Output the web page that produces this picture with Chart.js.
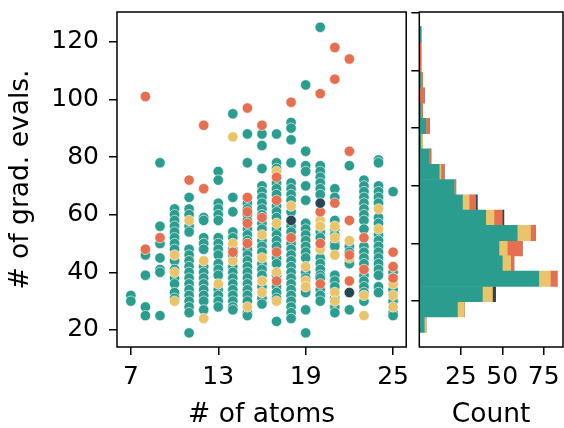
<!DOCTYPE html>
<html>
<head>
<meta charset="utf-8">
<script src="https://cdn.jsdelivr.net/npm/chart.js@4.4.1/dist/chart.umd.min.js"></script>
<style>
  html, body { margin: 0; padding: 0; background: #fff; }
  #wrap { position: relative; width: 564px; height: 428px; overflow: hidden; }
  canvas { position: absolute; top: 0; }
</style>
</head>
<body>
<div id="wrap">
  <canvas id="scatter" width="412" height="428" style="left:0"></canvas>
  <canvas id="hist" width="160" height="428" style="left:404px"></canvas>
</div>
<script>
// ---------- data ----------
const xTickValues = [7, 13, 19, 25];
const yTickValues = [20, 40, 60, 80, 100, 120];
const countTickValues = [25, 50, 75];

// scatter columns: [number of atoms, [grad evals ...]]
const tealPoints = [
  [7, [32, 30]],
  [8, [46, 39, 28, 25]],
  [9, [78, 56, 50, 45, 41, 40, 25]],
  [10, [62, 60, 58, 56, 54, 52, 50, 48, 44, 41, 38, 36, 33, 31]],
  [11, [66, 62, 60, 56, 54, 48, 46, 44, 42, 40, 38, 36, 34, 32, 30, 28, 26, 19]],
  [12, [59, 58, 52, 50, 48, 42, 40, 38, 36, 34, 32, 30, 27]],
  [13, [75, 72, 64, 62, 60, 58, 52, 50, 48, 46, 43, 41, 39, 34, 32, 30, 28]],
  [14, [95, 66, 61, 54, 52, 48, 46, 42, 40, 38, 36, 34, 32, 30, 28, 27]],
  [15, [88, 78, 64, 62, 60, 58, 55, 53, 51, 48, 46, 44, 42, 40, 38, 36, 34, 32, 30, 26, 25]],
  [16, [88, 84, 76, 70, 68, 66, 64, 62, 60, 57, 55, 51, 49, 47, 43, 41, 39, 35, 31, 29]],
  [17, [88, 78, 76, 71, 69, 67, 63, 61, 59, 55, 53, 51, 49, 45, 43, 39, 35, 33, 31, 23]],
  [18, [92, 90, 86, 78, 71, 69, 67, 65, 61, 56, 54, 50, 48, 46, 44, 42, 40, 38, 36, 34, 32, 30, 28, 26, 24]],
  [19, [105, 82, 77, 75, 70, 65, 57, 55, 53, 51, 49, 47, 45, 40, 38, 34, 33, 27, 19]],
  [20, [125, 77, 75, 73, 71, 69, 67, 54, 52, 45, 43, 41, 39, 38, 34, 32, 30]],
  [21, [69, 66, 58, 55, 53, 50, 49, 39, 37, 35, 31, 28, 26]],
  [22, [77, 49, 47, 44, 43, 27]],
  [23, [72, 70, 68, 66, 64, 62, 60, 58, 55, 49, 47, 45, 43, 39, 37, 35, 33, 30]],
  [24, [79, 78, 70, 68, 66, 64, 59, 57, 53, 51, 49, 47, 45, 43, 41, 39, 35, 33]],
  [25, [68, 40, 38, 34, 30, 26, 25]]
];
const yellowPoints = [
  [10, [46, 40, 30]],
  [11, [58]],
  [12, [44, 24]],
  [13, [36]],
  [14, [87, 50, 44]],
  [15, [28]],
  [16, [53, 45, 37, 33]],
  [17, [75, 57, 40, 30]],
  [18, [63]],
  [19, [42, 37, 35]],
  [20, [58, 56, 48]],
  [21, [56, 52, 46, 33, 30]],
  [22, [51, 45]],
  [23, [32, 25]],
  [24, [62, 55]],
  [25, [36, 32, 28]]
];
const orangePoints = [
  [8, [101, 48]],
  [9, [52]],
  [11, [72]],
  [12, [91, 69]],
  [14, [47]],
  [15, [97, 66, 61, 57, 50]],
  [16, [91, 59]],
  [17, [73, 65, 47, 37]],
  [18, [99, 52]],
  [20, [102, 61, 50, 36]],
  [21, [118, 107, 64]],
  [22, [114, 82, 58, 46, 37]],
  [23, [52, 41]],
  [25, [47, 42, 38]]
];
const darkPoints = [
  [18, [58]],
  [20, [64]],
  [22, [33]]
];

// histogram (bin centres of grad evals, stacked counts)
const binCenters = [21.85, 27.15, 32.45, 37.75, 43.05, 48.35, 53.65, 58.95, 64.25, 69.55,
                    74.85, 80.15, 85.45, 90.75, 96.05, 101.35, 106.65, 111.95, 117.25, 122.55];
const tealCounts   = [3, 23, 38, 72, 50, 48, 59, 40, 26, 21, 12, 6, 1, 4, 1, 0, 1, 0, 0, 1];
const yellowCounts = [1, 4, 6, 7, 5, 5, 8, 5, 4, 0, 1, 0, 1, 0, 0, 0, 0, 0, 0, 0];
const orangeCounts = [0, 0, 0, 4, 2, 9, 3, 5, 4, 1, 2, 1, 0, 2, 1, 3, 1, 1, 1, 0];
const darkCounts   = [0, 0, 2, 0, 0, 0, 0, 1, 1, 0, 0, 0, 0, 0, 0, 0, 0, 0, 0, 0];

// ---------- styling ----------
const C = { teal: '#2a9d8f', yellow: '#e9c46a', orange: '#e76f51', dark: '#264653' };
const FONT = 'DejaVu Sans';
const TICK_FONT = { family: FONT, size: 25 };
const TITLE_FONT = { family: FONT, size: 26.5, lineHeight: 1 };
const Y_MIN = 14.1, Y_MAX = 130.3;

const framePlugin = {
  id: 'frame',
  afterDraw(chart) {
    const a = chart.chartArea, ctx = chart.ctx;
    ctx.save();
    ctx.strokeStyle = '#000';
    ctx.lineWidth = 1.5;
    ctx.strokeRect(a.left, a.top, a.right - a.left, a.bottom - a.top);
    ctx.restore();
  }
};

function flatten(cols) {
  const out = [];
  cols.forEach(([x, ys]) => ys.forEach(y => out.push({ x, y })));
  return out;
}
function setTicks(values) {
  return s => { s.ticks = values.map(v => ({ value: v })); };
}
function fixH(h) {
  return s => { s.height = h; s.paddingLeft = 0; s.paddingRight = 0; };
}
function fixW(w) {
  return s => { s.width = w; s.paddingTop = 0; s.paddingBottom = 0; };
}
function tickGrid() {
  return { display: true, drawOnChartArea: false, drawTicks: true, tickLength: 8,
           tickColor: '#000', tickWidth: 1.5, lineWidth: 1.5, color: '#000' };
}
function pointSet(cols, color, order) {
  return { data: flatten(cols), backgroundColor: color, borderColor: '#fff',
           borderWidth: 0.6, pointRadius: 5.2, pointHoverRadius: 5.2, order };
}

new Chart(document.getElementById('scatter'), {
  type: 'scatter',
  data: {
    datasets: [
      pointSet(darkPoints, C.dark, 1),
      pointSet(orangePoints, C.orange, 2),
      pointSet(yellowPoints, C.yellow, 3),
      pointSet(tealPoints, C.teal, 4)
    ]
  },
  options: {
    responsive: false, animation: false,
    layout: { padding: { top: 12, right: 4, left: 0, bottom: 0 } },
    plugins: { legend: { display: false }, tooltip: { enabled: false } },
    scales: {
      x: {
        type: 'linear', min: 6.05, max: 25.9,
        afterBuildTicks: setTicks(xTickValues),
        afterFit: fixH(81),
        grid: tickGrid(), border: { display: false },
        ticks: { font: TICK_FONT, color: '#000', padding: 7, maxRotation: 0, autoSkip: false },
        title: { display: true, text: '# of atoms', font: TITLE_FONT, color: '#000', padding: 0 }
      },
      y: {
        type: 'linear', min: Y_MIN, max: Y_MAX,
        afterBuildTicks: setTicks(yTickValues),
        afterFit: fixW(117),
        grid: tickGrid(), border: { display: false },
        ticks: { font: TICK_FONT, color: '#000', padding: 10, autoSkip: false },
        title: { display: true, text: '# of grad. evals.', font: TITLE_FONT, color: '#000', padding: { top: 8, bottom: 0 } }
      }
    }
  },
  plugins: [framePlugin]
});

function barSet(counts, color) {
  return { data: binCenters.map((c, i) => ({ y: c, x: counts[i] })), backgroundColor: color,
           borderWidth: 0, categoryPercentage: 1, barPercentage: 1 };
}

new Chart(document.getElementById('hist'), {
  type: 'bar',
  data: {
    datasets: [
      barSet(tealCounts, C.teal),
      barSet(yellowCounts, C.yellow),
      barSet(orangeCounts, C.orange),
      barSet(darkCounts, C.dark)
    ]
  },
  options: {
    indexAxis: 'y',
    responsive: false, animation: false,
    layout: { padding: { top: 12, right: 1, left: 0, bottom: 0 } },
    plugins: { legend: { display: false }, tooltip: { enabled: false } },
    scales: {
      x: {
        type: 'linear', min: 0, max: 86.6, stacked: true,
        afterBuildTicks: setTicks(countTickValues),
        afterFit: fixH(81),
        grid: tickGrid(), border: { display: false },
        ticks: { font: TICK_FONT, color: '#000', padding: 7, maxRotation: 0, autoSkip: false },
        title: { display: true, text: 'Count', font: TITLE_FONT, color: '#000', padding: 0 }
      },
      y: {
        type: 'linear', min: Y_MIN, max: Y_MAX, stacked: true, offset: false,
        afterBuildTicks: setTicks(yTickValues),
        afterFit: fixW(15.3),
        grid: tickGrid(), border: { display: false },
        ticks: { display: true, callback: () => '', padding: 0 }
      }
    }
  },
  plugins: [framePlugin]
});
</script>
</body>
</html>
